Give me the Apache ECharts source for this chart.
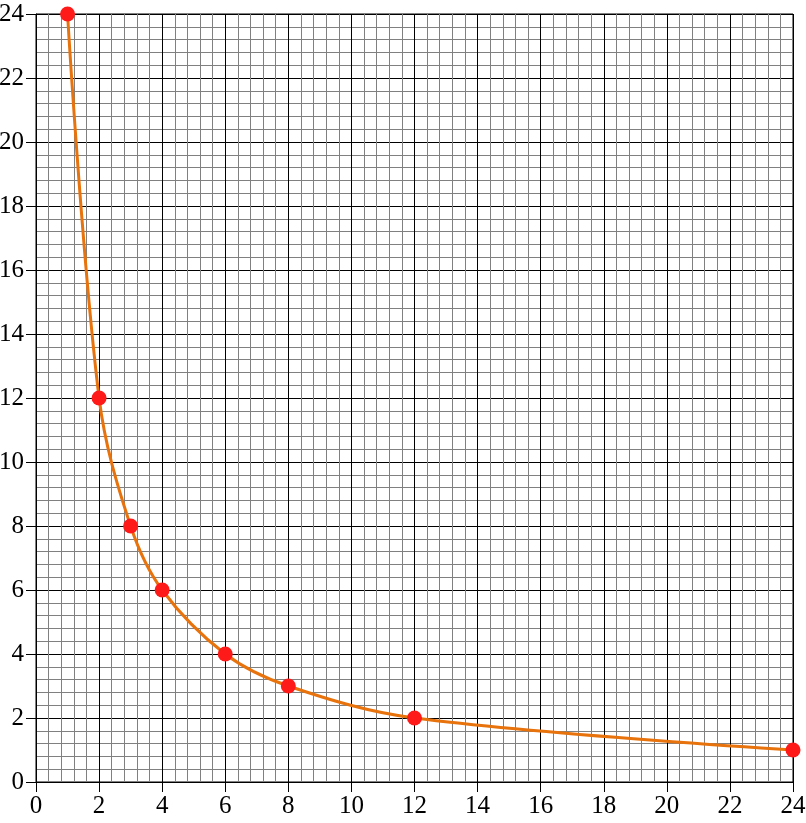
<!DOCTYPE html>
<html>
<head>
<meta charset="utf-8">
<script src="https://cdn.jsdelivr.net/npm/echarts@6/dist/echarts.min.js"></script>
<style>html,body{margin:0;padding:0;background:#fff}#c{width:806px;height:823px}</style>
</head>
<body>
<div id="c"></div>
<script>
var xValues = [1, 2, 3, 4, 6, 8, 12, 24];
var yValues = [24, 12, 8, 6, 4, 3, 2, 1];
var xTicks = [0, 2, 4, 6, 8, 10, 12, 14, 16, 18, 20, 22, 24];
var yTicks = [0, 2, 4, 6, 8, 10, 12, 14, 16, 18, 20, 22, 24];

var pts = xValues.map(function (x, i) { return [x, yValues[i]]; });
var font = 'Liberation Serif';
function axis(ticks, margin) {
  return {
    type: 'value', min: ticks[0], max: ticks[ticks.length - 1], interval: 2,
    axisLine: { show: true, onZero: false, lineStyle: { color: '#000', width: 1 } },
    axisTick: { show: true, length: 10, lineStyle: { color: '#000', width: 1 } },
    axisLabel: { color: '#000', fontFamily: font, fontSize: 25, margin: margin, hideOverlap: false },
    splitLine: { show: true, lineStyle: { color: '#000', width: 1 } },
    minorTick: { show: false, splitNumber: 5 },
    minorSplitLine: { show: true, lineStyle: { color: '#808080', width: 1 } }
  };
}
var chart = echarts.init(document.getElementById('c'), null, { renderer: 'canvas' });
chart.setOption({
  animation: false,
  backgroundColor: '#fff',
  grid: { left: 36, right: 13, top: 14, bottom: 41, containLabel: false, outerBoundsMode: 'none', show: true, borderColor: '#000', borderWidth: 1 },
  xAxis: axis(xTicks, 12),
  yAxis: axis(yTicks, 12),
  series: [
    { type: 'line', data: pts, smooth: 0.35, symbol: 'none', lineStyle: { color: '#E8720C', width: 3 }, z: 3 },
    { type: 'scatter', data: pts, symbolSize: 15, itemStyle: { color: '#FF1A1A', opacity: 1 }, z: 4 }
  ]
});
</script>
</body>
</html>
